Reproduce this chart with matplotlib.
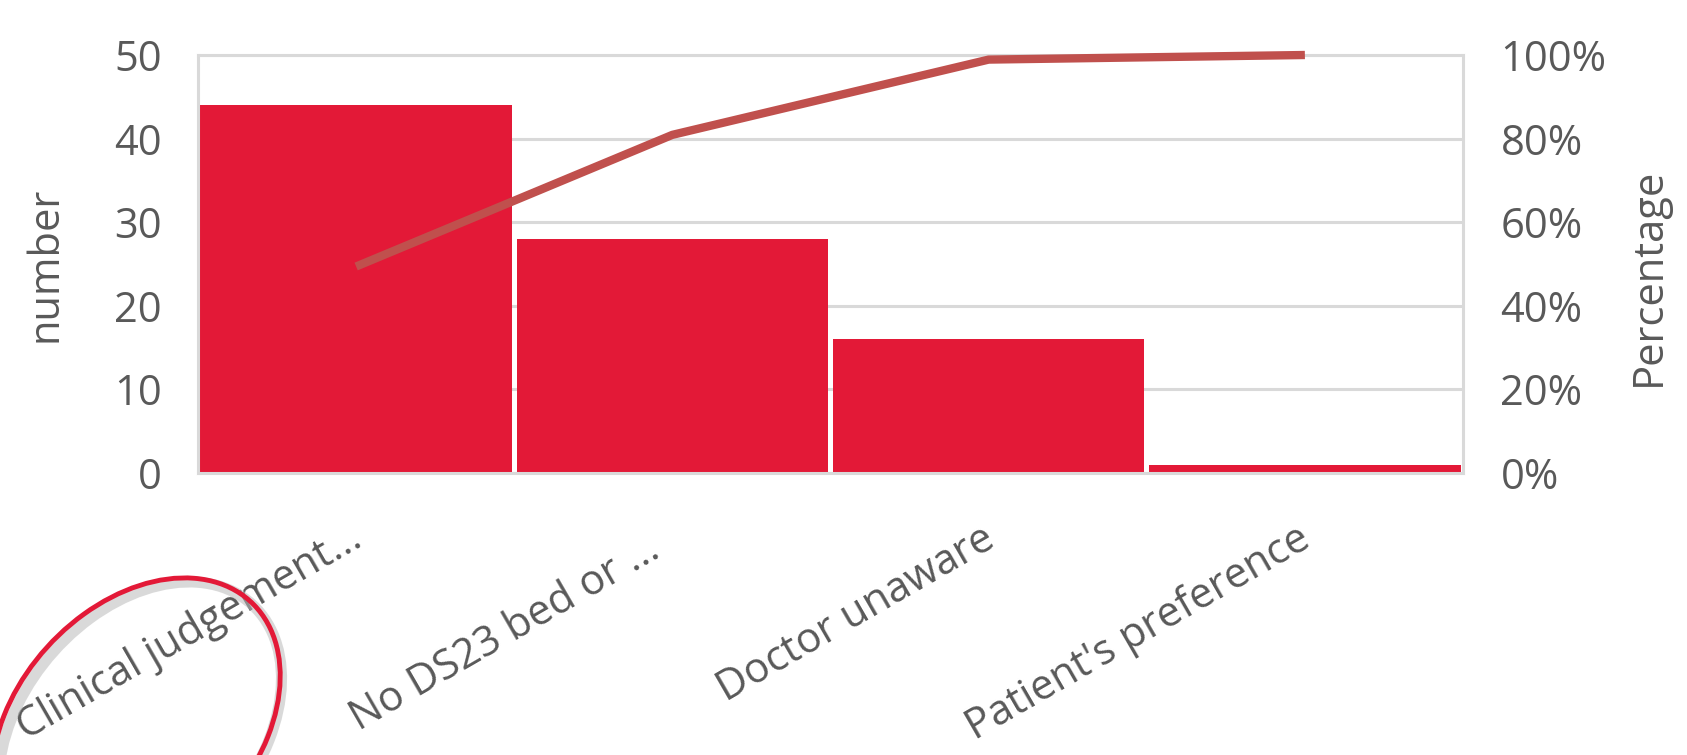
import matplotlib
matplotlib.use("Agg")
import matplotlib.pyplot as plt
from matplotlib.patches import Ellipse
from matplotlib.ticker import FuncFormatter

categories = ["Clinical judgement...", "No DS23 bed or ...  ", "Doctor unaware", "Patient's preference"]
counts = [44, 28, 16, 1]
cumulative_pct = [49.4, 80.9, 98.9, 100.0]
left_ticks = [0, 10, 20, 30, 40, 50]
right_ticks = [0, 20, 40, 60, 80, 100]

W, H = 1687, 755
plt.rcParams['font.family'] = ['Open Sans', 'DejaVu Sans']
fig = plt.figure(figsize=(W / 100, H / 100), dpi=100)
fig.patch.set_facecolor('white')

L, R, T, B = 198, 1463, 55, 473
ax = fig.add_axes([L / W, 1 - B / H, (R - L) / W, (B - T) / H])
grid_c = '#D9D9D9'
text_c = '#595959'

x = list(range(len(categories)))
ax.bar(x, counts, width=0.985, color='#E31937', zorder=2)
ax.set_xlim(-0.5, len(categories) - 0.5)
ax.set_ylim(0, 50)
ax.set_yticks(left_ticks)
ax.yaxis.grid(True, color=grid_c, linewidth=2.2, zorder=0)
ax.set_axisbelow(True)
for s in ax.spines.values():
    s.set_color(grid_c)
    s.set_linewidth(2.2)
ax.tick_params(axis='y', length=0, pad=26, labelsize=30, labelcolor=text_c)
ax.set_xticks(x)
ax.set_xticklabels(categories, rotation=30, ha='right', va='center_baseline',
                   rotation_mode='anchor')
ax.tick_params(axis='x', length=0, pad=42, labelsize=30, labelcolor=text_c)

ax2 = ax.twinx()
ax2.set_ylim(0, 100)
ax2.set_yticks(right_ticks)
ax2.yaxis.set_major_formatter(FuncFormatter(lambda v, p: f"{v:.0f}%"))
ax2.tick_params(axis='y', length=0, pad=27, labelsize=30, labelcolor=text_c)
for s in ax2.spines.values():
    s.set_visible(False)
ax2.plot(x, cumulative_pct, color='#C0504D', linewidth=6, solid_capstyle='butt',
         clip_on=False, zorder=5)

fig.text(45 / W, 1 - 264 / H, 'number', rotation=90, ha='center', va='center',
         fontsize=30, color=text_c)
fig.text(1628 / W, 1 - 277 / H, 'Percentage', rotation=90, ha='left', va='center',
         fontsize=30, color=text_c)

# hand-drawn highlight ellipse around the first label
shadow = Ellipse((140 / W, 1 - 730 / H), 262 / W, 300 / H, angle=-10,
                 transform=fig.transFigure, fill=False, edgecolor='#BBBBBB',
                 linewidth=8, alpha=0.55)
ell = Ellipse((136 / W, 1 - 726 / H), 268 / W, 300 / H, angle=-10,
              transform=fig.transFigure, fill=False, edgecolor='#E31937', linewidth=3.5)
fig.add_artist(shadow)
fig.add_artist(ell)

fig.savefig('out.png', dpi=100, facecolor='white')
